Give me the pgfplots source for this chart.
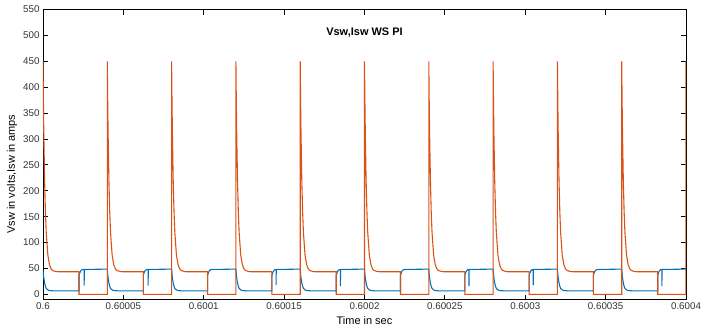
\documentclass[border=0pt]{standalone}
\usepackage{pgfplots}
\pgfplotsset{compat=1.18}
\usetikzlibrary{calc}
\usepackage{fontspec}
\setmainfont{Liberation Sans}
\definecolor{mblue}{rgb}{0,0.447,0.741}
\definecolor{morange}{rgb}{0.85,0.325,0.098}
\begin{document}
\begin{tikzpicture}
\begin{axis}[
  scale only axis,
  width=643bp, height=290bp,
  xmin=0, xmax=400, ymin=-10, ymax=550,
  xtick={0,50,100,150,200,250,300,350,400},
  xticklabels={0.6,0.60005,0.6001,0.60015,0.6002,0.60025,0.6003,0.60035,0.6004},
  ytick={0,50,100,150,200,250,300,350,400,450,500,550},
  tick align=inside,
  major tick length=5bp,
  axis line style={black, line width=0.8pt},
  every tick/.style={black, line width=0.8pt},
  /pgf/number format/assume math mode=true,
  tick label style={font=\fontsize{9.8}{10}\selectfont, text=black!80},
  label style={font=\fontsize{11}{12}\selectfont},
  xlabel={Time in sec},
  ylabel={Vsw in volts,Isw in amps},
  xlabel style={at={(axis description cs:0.5,-0.074)}, anchor=center},
  ylabel style={at={(axis description cs:-0.048,0.433)}, anchor=center, rotate=0},
  clip=true,
]
% Isw (blue)
\addplot[mblue, line width=1.1pt] coordinates {
(0,47)(0.3,37)(0.6,29.5)(1,22)(1.5,15.5)(2,11.5)(3,8.5)(4,7.3)(6,6.8)(22.4,6.5)(22.4,36)(22.8,41)(23.4,45)(24.2,47.5)(25.6,48)(25.6,17)(25.7,48)(40,48.7)
(40.3,37)(40.6,29.5)(41,22)(41.5,15.5)(42,11.5)(43,8.5)(44,7.3)(46,6.8)(62.4,6.5)(62.4,36)(62.8,41)(63.4,45)(64.2,47.5)(65.4,48)(65.4,17)(65.5,48)(80,48.7)
(80.3,37)(80.6,29.5)(81,22)(81.5,15.5)(82,11.5)(83,8.5)(84,7.3)(86,6.8)(102.4,6.5)(102.4,36)(102.8,41)(103.4,45)(104.2,47.5)(105.4,48)(120,48.7)
(120.3,37)(120.6,29.5)(121,22)(121.5,15.5)(122,11.5)(123,8.5)(124,7.3)(126,6.8)(142.4,6.5)(142.4,36)(142.8,41)(143.4,45)(144.2,47.5)(145,48)(145,18)(145.1,48)(160,48.7)
(160.3,37)(160.6,29.5)(161,22)(161.5,15.5)(162,11.5)(163,8.5)(164,7.3)(166,6.8)(182.4,6.5)(182.4,36)(182.8,41)(183.4,45)(184.2,47.5)(185,48)(185,16)(185.1,48)(200,48.7)
(200.3,37)(200.6,29.5)(201,22)(201.5,15.5)(202,11.5)(203,8.5)(204,7.3)(206,6.8)(222.4,6.5)(222.4,36)(222.8,41)(223.4,45)(224.2,47.5)(225.4,48)(240,48.7)
(240.3,37)(240.6,29.5)(241,22)(241.5,15.5)(242,11.5)(243,8.5)(244,7.3)(246,6.8)(262.4,6.5)(262.4,36)(262.8,41)(263.4,45)(264.2,47.5)(265,48)(265,16)(265.1,48)(280,48.7)
(280.3,37)(280.6,29.5)(281,22)(281.5,15.5)(282,11.5)(283,8.5)(284,7.3)(286,6.8)(302.4,6.5)(302.4,36)(302.8,41)(303.4,45)(304.2,47.5)(305,48)(305,18)(305.1,48)(320,48.7)
(320.3,37)(320.6,29.5)(321,22)(321.5,15.5)(322,11.5)(323,8.5)(324,7.3)(326,6.8)(342.4,6.5)(342.4,36)(342.8,41)(343.4,45)(344.2,47.5)(345.4,48)(360,48.7)
(360.3,37)(360.6,29.5)(361,22)(361.5,15.5)(362,11.5)(363,8.5)(364,7.3)(366,6.8)(382.4,6.5)(382.4,36)(382.8,41)(383.4,45)(384.2,47.5)(385,48)(385,16)(385.1,48)(400,48.7)
};
% Vsw (orange)
\addplot[morange, line width=1.1pt] coordinates {
(0,450)(0.25,373)(0.5,311)(1,220)(1.5,160)(2,120)(3,76)(4,57.5)(5,49.3)(6,46)(8,44)(10,43.5)(22.4,43.5)(22.4,0)
(40,0)(40,450)(40.25,373)(40.5,311)(41,220)(41.5,160)(42,120)(43,76)(44,57.5)(45,49.3)(46,46)(48,44)(50,43.5)(62.4,43.5)(62.4,0)
(80,0)(80,450)(80.25,373)(80.5,311)(81,220)(81.5,160)(82,120)(83,76)(84,57.5)(85,49.3)(86,46)(88,44)(90,43.5)(102.4,43.5)(102.4,0)
(120,0)(120,450)(120.25,373)(120.5,311)(121,220)(121.5,160)(122,120)(123,76)(124,57.5)(125,49.3)(126,46)(128,44)(130,43.5)(142.4,43.5)(142.4,0)
(160,0)(160,450)(160.25,373)(160.5,311)(161,220)(161.5,160)(162,120)(163,76)(164,57.5)(165,49.3)(166,46)(168,44)(170,43.5)(182.4,43.5)(182.4,0)
(200,0)(200,450)(200.25,373)(200.5,311)(201,220)(201.5,160)(202,120)(203,76)(204,57.5)(205,49.3)(206,46)(208,44)(210,43.5)(222.4,43.5)(222.4,0)
(240,0)(240,450)(240.25,373)(240.5,311)(241,220)(241.5,160)(242,120)(243,76)(244,57.5)(245,49.3)(246,46)(248,44)(250,43.5)(262.4,43.5)(262.4,0)
(280,0)(280,450)(280.25,373)(280.5,311)(281,220)(281.5,160)(282,120)(283,76)(284,57.5)(285,49.3)(286,46)(288,44)(290,43.5)(302.4,43.5)(302.4,0)
(320,0)(320,450)(320.25,373)(320.5,311)(321,220)(321.5,160)(322,120)(323,76)(324,57.5)(325,49.3)(326,46)(328,44)(330,43.5)(342.4,43.5)(342.4,0)
(360,0)(360,450)(360.25,373)(360.5,311)(361,220)(361.5,160)(362,120)(363,76)(364,57.5)(365,49.3)(366,46)(368,44)(370,43.5)(382.4,43.5)(382.4,0)
(400,0)(400,450)
};
\node[font=\bfseries\fontsize{11}{12}\selectfont] at (axis description cs:0.5,0.922) {Vsw,Isw WS PI};
\end{axis}
\pgfresetboundingbox
\path[use as bounding box] ($(current axis.south west)+(-43bp,-31.5bp)$) rectangle ($(current axis.north east)+(15bp,9.5bp)$);
\end{tikzpicture}
\end{document}
